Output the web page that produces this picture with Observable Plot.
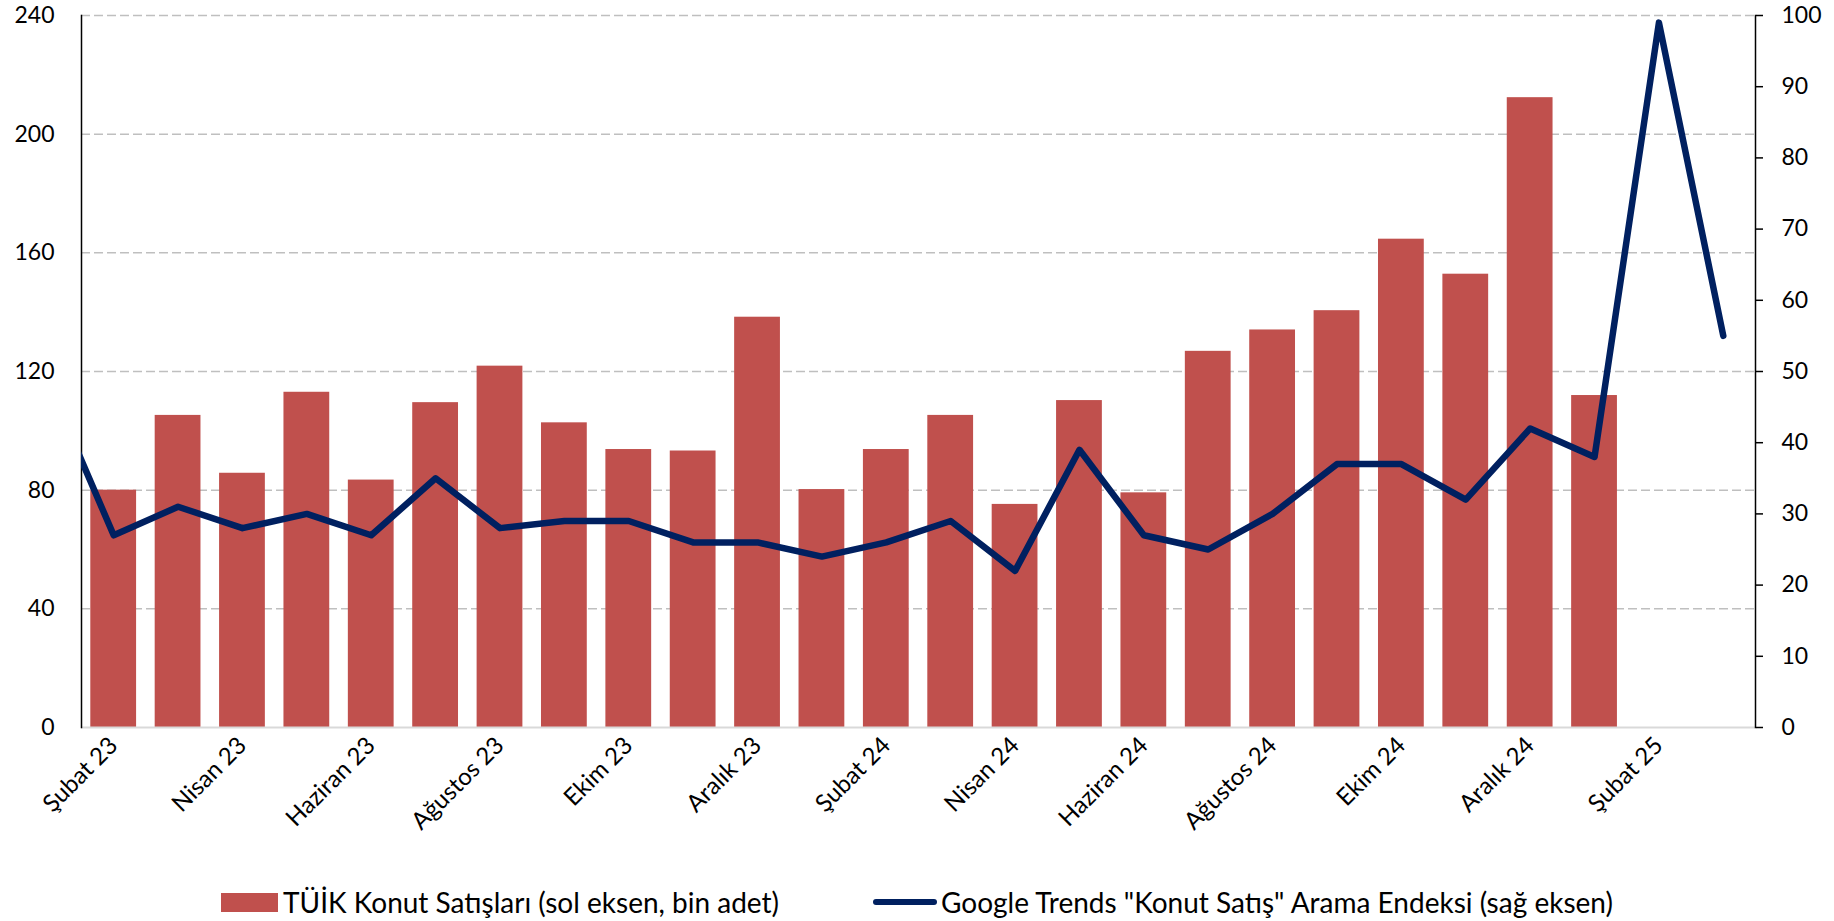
<!DOCTYPE html>
<html>
<head>
<meta charset="utf-8">
<script src="https://cdn.jsdelivr.net/npm/d3@7"></script>
<script src="https://cdn.jsdelivr.net/npm/@observablehq/plot@0.6"></script>
<style>
  html, body { margin: 0; padding: 0; background: #fff; }
  body { width: 1834px; height: 921px; position: relative; font-family: Lato, "Open Sans", sans-serif; }
  #chart svg { display: block; }
  #legend { position: absolute; left: 0; top: 886px; width: 1834px; height: 32px; display: flex; justify-content: center; align-items: center; font-size: 28px; color: #000; }
  .item { display: flex; align-items: center; }
  .sw-bar { width: 57px; height: 19px; background: #C0504D; margin-right: 5px; }
  .sw-line { width: 64px; height: 6px; background: #002060; border-radius: 3px; margin-right: 4px; }
</style>
</head>
<body>
<div id="chart"></div>
<div id="legend">
  <div class="item"><div class="sw-bar"></div><span id="l1"></span></div>
  <div class="item" style="margin-left:94px"><div class="sw-line"></div><span id="l2"></span></div>
</div>
<script>
// Months (index 0 = Ocak 23, which lies just outside the left edge)
const months = ["Ocak 23","Şubat 23","Mart 23","Nisan 23","Mayıs 23","Haziran 23","Temmuz 23","Ağustos 23","Eylül 23","Ekim 23","Kasım 23","Aralık 23","Ocak 24","Şubat 24","Mart 24","Nisan 24","Mayıs 24","Haziran 24","Temmuz 24","Ağustos 24","Eylül 24","Ekim 24","Kasım 24","Aralık 24","Ocak 25","Şubat 25","Mart 25"];
// TÜİK housing sales, thousand units (Şubat 23 .. Ocak 25)
const sales = [80, 105.2, 85.7, 113, 83.4, 109.5, 121.8, 102.7, 93.7, 93.2, 138.3, 80.2, 93.7, 105.2, 75.2, 110.2, 79.1, 126.8, 134, 140.5, 164.6, 152.8, 212.3, 111.9];
// Google Trends index (Ocak 23 .. Mart 25)
const trends = [48, 27, 31, 28, 30, 27, 35, 28, 29, 29, 26, 26, 24, 26, 29, 22, 39, 27, 25, 30, 37, 37, 32, 42, 38, 99, 55];
const leftTicks = [0, 40, 80, 120, 160, 200, 240];
const rightTicks = [0, 10, 20, 30, 40, 50, 60, 70, 80, 90, 100];
const labelIdx = [1, 3, 5, 7, 9, 11, 13, 15, 17, 19, 21, 23, 25];
const legendLabels = ["TÜİK Konut Satışları (sol eksen, bin adet)", "Google Trends \"Konut Satış\" Arama Endeksi (sağ eksen)"];

const ratio = 240 / 100;
const barData = sales.map((v, i) => ({i: i + 1, v}));
const lineData = trends.map((v, i) => ({i, v: v * ratio}));

const chart = Plot.plot({
  width: 1834,
  height: 870,
  marginLeft: 81,
  marginRight: 79,
  marginTop: 15,
  marginBottom: 143,
  style: {fontFamily: "Lato, 'Open Sans', sans-serif", fontSize: "23px", color: "#000", background: "#fff"},
  x: {type: "linear", domain: [0.5, 26.5]},
  y: {domain: [0, 240]},
  marks: [
    Plot.gridY(leftTicks.slice(1), {stroke: "#bfbfbf", strokeOpacity: 1, strokeWidth: 1.5, strokeDasharray: "9,4"}),
    Plot.rectY(barData, {x1: d => d.i - 0.5, x2: d => d.i + 0.5, y: "v", fill: "#C0504D", insetLeft: 9.3, insetRight: 9.3}),
    Plot.ruleY([0], {stroke: "#d9d9d9", strokeWidth: 2}),
    Plot.frame({anchor: "left", stroke: "#000", strokeWidth: 1.5}),
    Plot.frame({anchor: "right", stroke: "#000", strokeWidth: 1.5}),
    Plot.line(lineData, {x: "i", y: "v", stroke: "#002060", strokeWidth: 6.5, strokeLinejoin: "round", strokeLinecap: "round", clip: true}),
    Plot.axisY({anchor: "left", ticks: leftTicks, tickSize: 0, tickPadding: 27, label: null, fontSize: 23}),
    Plot.axisY({anchor: "right", ticks: rightTicks.map(v => v * ratio), tickFormat: d => String(Math.round(d / ratio)), tickSize: 7, tickPadding: 19, strokeWidth: 1.5, label: null, fontSize: 23, textAnchor: "start"}),
    Plot.axisX({ticks: labelIdx, tickFormat: d => months[d], tickSize: 0, tickPadding: 14, tickRotate: -45, label: null, fontSize: 24})
  ]
});
document.getElementById("chart").appendChild(chart);
document.getElementById("l1").textContent = legendLabels[0];
document.getElementById("l2").textContent = legendLabels[1];
</script>
</body>
</html>
